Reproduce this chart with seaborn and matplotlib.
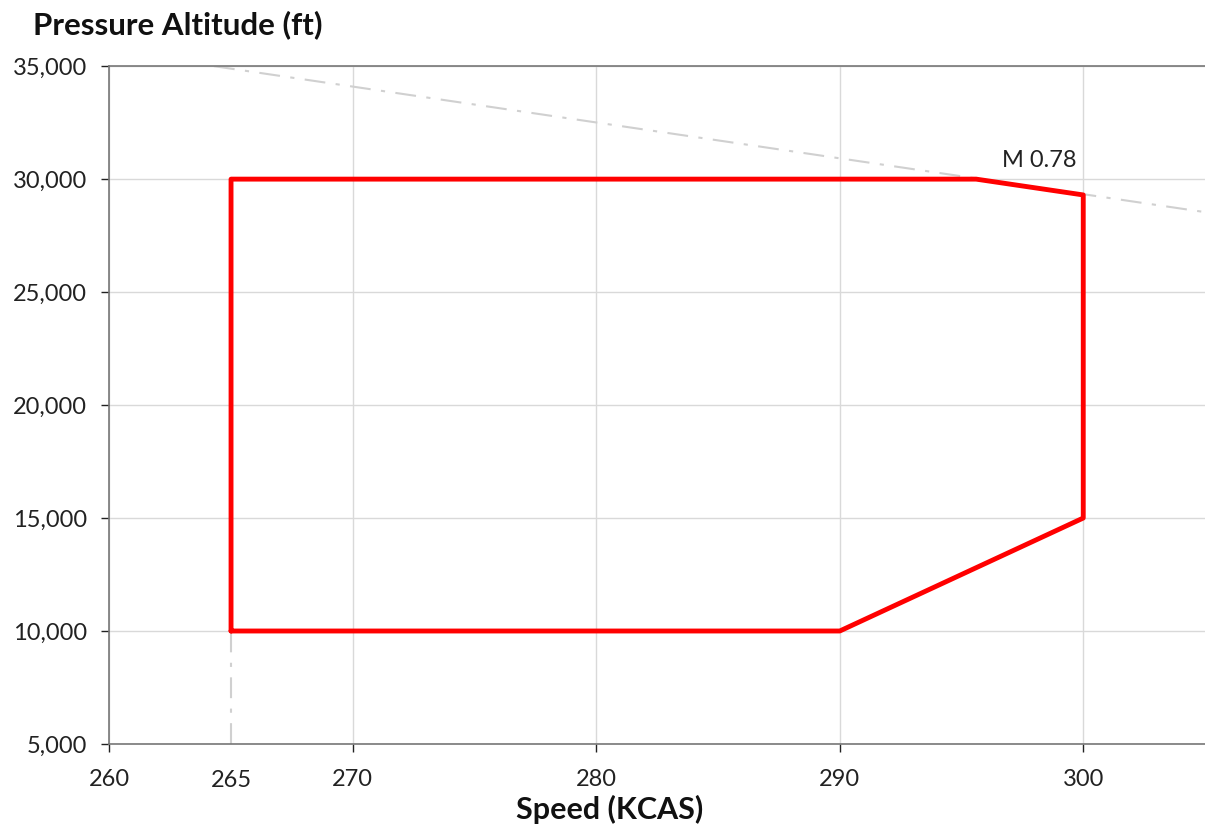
import matplotlib
matplotlib.use("Agg")
import matplotlib.pyplot as plt
import seaborn as sns
import pandas as pd

# Envelope polygon (KCAS, ft)
env_speed = [265, 265, 295.6, 300, 300, 290, 265]
env_alt = [10000, 30000, 30000, 29300, 15000, 10000, 10000]

# M 0.78 reference line
mach_speed = [264.3, 305]
mach_alt = [35000, 28540]

# Min speed extension
vmin_speed = [265, 265]
vmin_alt = [5000, 10000]

x_ticks = [260, 270, 280, 290, 300]
y_ticks = [5000, 10000, 15000, 20000, 25000, 30000, 35000]

sns.set_theme(style="white")
plt.rcParams['font.family'] = ['Lato', 'DejaVu Sans']

fig = plt.figure(figsize=(12.05, 8.27), dpi=100)
ax = fig.add_axes([0.0907, 0.1004, 0.9093, 0.8196])

ax.set_xlim(260, 305)
ax.set_ylim(5000, 35000)
ax.set_xticks(x_ticks)
ax.set_yticks(y_ticks)
ax.grid(True, color="#d9d9d9", linewidth=1.0)
ax.set_axisbelow(True)

dash = (0, (10, 5, 2, 5))
mach = pd.DataFrame({"speed": mach_speed, "alt": mach_alt})
sns.lineplot(data=mach, x="speed", y="alt", ax=ax, color="#d0d0d0", linewidth=1.5,
             linestyle=dash, sort=False, estimator=None)
vmin = pd.DataFrame({"speed": vmin_speed, "alt": vmin_alt})
sns.lineplot(data=vmin, x="speed", y="alt", ax=ax, color="#d0d0d0", linewidth=1.5,
             linestyle=dash, sort=False, estimator=None, orient="y")
env = pd.DataFrame({"speed": env_speed, "alt": env_alt})
sns.lineplot(data=env, x="speed", y="alt", ax=ax, color="#ff0000", linewidth=3.5,
             sort=False, estimator=None)

ax.set_xlabel("")
ax.set_ylabel("")
ax.yaxis.set_major_formatter(matplotlib.ticker.FuncFormatter(lambda v, p: f"{int(v):,}"))
ax.tick_params(axis="both", labelsize=17, colors="#222222", length=6, width=1,
               direction="out", pad=10)
ax.tick_params(axis="x", pad=12)
ax.tick_params(bottom=True, left=True)

for s in ["left", "bottom", "top"]:
    ax.spines[s].set_color("#777777")
    ax.spines[s].set_linewidth(1.2)
ax.spines["right"].set_visible(False)

ax.text(265, 3400, "265", ha="center", va="center", fontsize=17, color="#222222")
ax.text(298.2, 30840, "M 0.78", ha="center", va="center", fontsize=17, color="#222222")

fig.text(0.0275, 0.970, "Pressure Altitude (ft)", ha="left", va="center",
         fontsize=22.5, fontweight="bold", color="#111111")
fig.text(0.506, 0.021, "Speed (KCAS)", ha="center", va="center",
         fontsize=22, fontweight="bold", color="#111111")

fig.savefig("out.png", dpi=100)
